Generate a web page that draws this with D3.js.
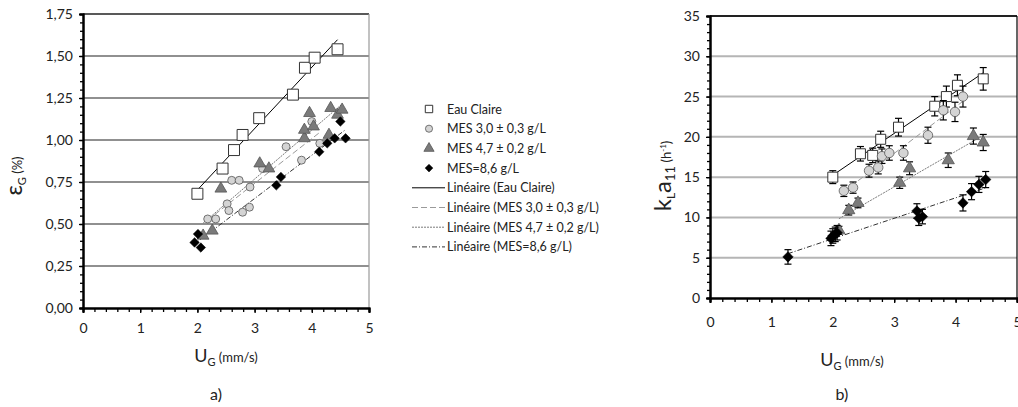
<!DOCTYPE html>
<html><head><meta charset="utf-8">
<script src="https://cdn.jsdelivr.net/npm/d3@7"></script>
<style>
html,body{margin:0;padding:0;background:#fff;}
svg text{font-family:Lato,"Noto Sans",sans-serif;fill:#222;}
</style></head>
<body>
<svg id="c" width="1018" height="407"></svg>
<script>
// ---------- DATA: chart a) gas hold-up ----------
const aEauX = [2.00, 2.44, 2.64, 2.79, 3.08, 3.67, 3.88, 4.05, 4.45];
const aEauY = [0.68, 0.83, 0.94, 1.03, 1.13, 1.27, 1.43, 1.49, 1.54];
const aMes3X = [2.18, 2.32, 2.52, 2.55, 2.60, 2.73, 2.79, 2.91, 2.92, 3.14, 3.55, 3.82, 4.00, 4.14];
const aMes3Y = [0.53, 0.53, 0.62, 0.58, 0.76, 0.76, 0.57, 0.60, 0.72, 0.83, 0.96, 0.88, 1.11, 0.98];
const aMes47X = [2.10, 2.26, 2.41, 3.09, 3.25, 3.87, 3.87, 3.96, 4.03, 4.30, 4.33, 4.45, 4.53];
const aMes47Y = [0.43, 0.46, 0.71, 0.86, 0.83, 1.01, 1.06, 1.16, 1.08, 1.03, 1.19, 1.15, 1.18];
const aMes86X = [1.95, 2.01, 2.06, 3.38, 3.46, 4.13, 4.27, 4.40, 4.50, 4.59];
const aMes86Y = [0.39, 0.44, 0.36, 0.73, 0.78, 0.93, 0.98, 1.01, 1.11, 1.01];
const aYTicks = [0, 0.25, 0.5, 0.75, 1.0, 1.25, 1.5, 1.75];
const aYTickLabels = ["0,00","0,25","0,50","0,75","1,00","1,25","1,50","1,75"];

// ---------- DATA: chart b) kLa ----------
const bEauX = [2.00, 2.45, 2.65, 2.78, 3.07, 3.66, 3.85, 4.03, 4.45];
const bEauY = [15.0, 17.9, 17.7, 19.7, 21.2, 23.8, 25.0, 26.4, 27.2];
const bEauE = [0.8, 0.9, 0.9, 1.0, 1.1, 1.2, 1.3, 1.3, 1.4];
const bMes3X = [2.18, 2.33, 2.59, 2.74, 2.80, 2.92, 3.15, 3.55, 3.80, 3.99, 4.12];
const bMes3Y = [13.3, 13.7, 15.8, 16.2, 17.6, 18.0, 18.0, 20.2, 23.3, 23.1, 25.0];
const bMes3E = [0.7, 0.7, 0.8, 0.8, 0.9, 0.9, 0.9, 1.0, 1.2, 1.2, 1.3];
const bMes47X = [2.10, 2.26, 2.41, 3.09, 3.25, 3.88, 4.29, 4.45];
const bMes47Y = [8.4, 10.9, 11.8, 14.3, 16.1, 17.1, 20.1, 19.3];
const bMes47E = [0.5, 0.6, 0.6, 0.7, 0.8, 0.9, 1.0, 1.0];
const bMes86X = [1.27, 1.97, 2.00, 2.04, 2.07, 3.37, 3.40, 3.46, 4.12, 4.26, 4.38, 4.49];
const bMes86Y = [5.1, 7.4, 7.7, 7.9, 8.1, 10.8, 9.9, 10.1, 11.8, 13.2, 14.1, 14.7];
const bMes86E = [0.9, 0.9, 0.9, 0.9, 0.9, 0.9, 0.9, 0.9, 1.0, 1.0, 1.0, 1.0];
const bYTicks = [0, 5, 10, 15, 20, 25, 30, 35];

const xTicks = [0, 1, 2, 3, 4, 5];
const legendLabels = ["Eau Claire", "MES 3,0 \u00b1 0,3 g/L", "MES 4,7 \u00b1 0,2 g/L", "MES=8,6 g/L",
  "Lin\u00e9aire (Eau Claire)", "Lin\u00e9aire (MES 3,0 \u00b1 0,3 g/L)", "Lin\u00e9aire (MES 4,7 \u00b1 0,2 g/L)", "Lin\u00e9aire (MES=8,6 g/L)"];

// ---------- STYLES ----------
const mk = [
  {type: d3.symbolSquare, rot: 0, fill: "#fff", stroke: "#333", sw: 1},
  {type: d3.symbolCircle, rot: 0, fill: "#d4d4d4", stroke: "#555", sw: 0.8},
  {type: d3.symbolTriangle, rot: 0, fill: "#7a7a7a", stroke: "#555", sw: 0.8},
  {type: d3.symbolSquare, rot: 45, fill: "#000", stroke: "#000", sw: 0.5}
];
const ln = [
  {stroke: "#000", dash: null, w: 1},
  {stroke: "#9a9a9a", dash: "6,3", w: 1},
  {stroke: "#7a7a7a", dash: "2,1", w: 1},
  {stroke: "#333", dash: "5,2,1,2", w: 1}
];

const svg = d3.select("#c");

function fit(xs, ys) {
  const n = xs.length, mx = d3.mean(xs), my = d3.mean(ys);
  let sxy = 0, sxx = 0;
  for (let i = 0; i < n; i++) { sxy += (xs[i]-mx)*(ys[i]-my); sxx += (xs[i]-mx)*(xs[i]-mx); }
  const b = sxy / sxx, a = my - b*mx;
  const x0 = d3.min(xs), x1 = d3.max(xs);
  return [[x0, a + b*x0], [x1, a + b*x1]];
}

function drawChart(o) {
  const g = svg.append("g");
  const x = d3.scaleLinear().domain([0, 5]).range([o.left, o.right]);
  const y = d3.scaleLinear().domain([0, o.ymax]).range([o.bottom, o.top]);

  g.selectAll(".grid").data(o.yTicks.slice(1)).join("line")
    .attr("x1", o.left).attr("x2", o.right)
    .attr("y1", d => y(d)).attr("y2", d => y(d))
    .attr("stroke", (d, i) => i === o.yTicks.length - 2 ? o.topColor : o.gridColor)
    .attr("stroke-width", o.gridW);
  g.append("line").attr("x1", o.right).attr("x2", o.right).attr("y1", o.top).attr("y2", o.bottom)
    .attr("stroke", o.rightColor).attr("stroke-width", 1.2);

  const yAx = d3.axisLeft(y).tickValues(o.yTicks).tickFormat((d, i) => o.yLabels[i]).tickSize(4).tickPadding(6);
  const yMinor = d3.axisLeft(y).tickValues(d3.range(0, o.ymax + 1e-9, o.yMinor)).tickFormat("").tickSize(3);
  const xAx = d3.axisBottom(x).tickValues(xTicks).tickFormat(d => d).tickSize(5).tickPadding(o.xPad);
  const xMinor = d3.axisBottom(x).tickValues(d3.range(0, 5.0001, 0.2)).tickFormat("").tickSize(4);
  [yMinor, yAx].forEach(a => {
    const ga = g.append("g").attr("transform", `translate(${o.left},0)`).call(a);
    ga.select(".domain").attr("stroke", "#000").attr("stroke-width", 2);
    ga.selectAll(".tick line").attr("stroke", "#000").attr("stroke-width", 1.3);
    ga.selectAll("text").attr("font-size", 14).attr("fill", "#222").attr("font-family", "Lato");
  });
  [xMinor, xAx].forEach(a => {
    const ga = g.append("g").attr("transform", `translate(0,${o.bottom})`).call(a);
    ga.select(".domain").attr("stroke", "#000").attr("stroke-width", 2);
    ga.selectAll(".tick line").attr("stroke", "#000").attr("stroke-width", 1.3);
    ga.selectAll("text").attr("font-size", 14).attr("fill", "#222").attr("font-family", "Lato");
  });

  o.series.forEach((s, i) => {
    const p = fit(s.x, s.y);
    g.append("line").attr("x1", x(p[0][0])).attr("y1", y(p[0][1])).attr("x2", x(p[1][0])).attr("y2", y(p[1][1]))
      .attr("stroke", ln[i].stroke).attr("stroke-width", ln[i].w).attr("stroke-dasharray", ln[i].dash);
  });

  o.series.forEach((s, i) => {
    const pts = s.x.map((v, j) => ({x: v, y: s.y[j], e: s.e ? s.e[j] : 0}));
    if (s.e) {
      const eb = g.append("g").attr("stroke", "#000").attr("stroke-width", 1.2);
      pts.forEach(p => {
        eb.append("line").attr("x1", x(p.x)).attr("x2", x(p.x)).attr("y1", y(p.y - p.e)).attr("y2", y(p.y + p.e));
        eb.append("line").attr("x1", x(p.x) - 3.5).attr("x2", x(p.x) + 3.5).attr("y1", y(p.y - p.e)).attr("y2", y(p.y - p.e));
        eb.append("line").attr("x1", x(p.x) - 3.5).attr("x2", x(p.x) + 3.5).attr("y1", y(p.y + p.e)).attr("y2", y(p.y + p.e));
      });
    }
    g.append("g").selectAll("path").data(pts).join("path")
      .attr("transform", p => `translate(${x(p.x)},${y(p.y)}) rotate(${mk[i].rot})`)
      .attr("d", d3.symbol().type(mk[i].type).size(o.sizes[i]))
      .attr("fill", mk[i].fill).attr("stroke", mk[i].stroke).attr("stroke-width", mk[i].sw);
  });

  const xl = g.append("text").attr("x", o.xLabelX).attr("y", o.xLabelY).attr("text-anchor", "middle");
  xl.append("tspan").text("U").attr("font-size", 18);
  xl.append("tspan").text("G").attr("font-size", 11).attr("dy", 4);
  xl.append("tspan").text(" (mm/s)").attr("font-size", 13).attr("dy", -4);
  g.append("text").attr("x", o.xLabelX - 10).attr("y", o.capY).attr("text-anchor", "middle")
    .attr("font-size", 16).text(o.caption);
  return g;
}

drawChart({
  left: 83, right: 369, top: 14, bottom: 308, ymax: 1.75, yMinor: 0.05,
  yTicks: aYTicks, yLabels: aYTickLabels, gridColor: "#6b6b6b", topColor: "#222", rightColor: "#999", gridW: 1.6,
  xPad: 10, sizes: [120, 50, 60, 45],
  series: [{x: aEauX, y: aEauY}, {x: aMes3X, y: aMes3Y}, {x: aMes47X, y: aMes47Y}, {x: aMes86X, y: aMes86Y}],
  xLabelX: 226, xLabelY: 362, capY: 400, caption: "a)"
});
const yla = svg.append("text").attr("transform", "translate(22,176) rotate(-90)").attr("text-anchor", "middle");
yla.append("tspan").text("\u03b5").attr("font-size", 23);
yla.append("tspan").text("G").attr("font-size", 11).attr("dy", 4);
yla.append("tspan").text(" (%)").attr("font-size", 13).attr("dy", -4);

drawChart({
  left: 710, right: 1017, top: 16, bottom: 298, ymax: 35, yMinor: 1,
  yTicks: bYTicks, yLabels: bYTicks.map(String), gridColor: "#b5b5b5", topColor: "#222", rightColor: "#000", gridW: 2,
  xPad: 14, sizes: [100, 70, 65, 55],
  series: [{x: bEauX, y: bEauY, e: bEauE}, {x: bMes3X, y: bMes3Y, e: bMes3E}, {x: bMes47X, y: bMes47Y, e: bMes47E}, {x: bMes86X, y: bMes86Y, e: bMes86E}],
  xLabelX: 852, xLabelY: 366, capY: 400, caption: "b)"
});
const ylb = svg.append("text").attr("transform", "translate(671,176) rotate(-90)").attr("text-anchor", "middle");
ylb.append("tspan").text("k").attr("font-size", 24);
ylb.append("tspan").text("L").attr("font-size", 12).attr("dy", 4);
ylb.append("tspan").text("a").attr("font-size", 24).attr("dy", -4);
ylb.append("tspan").text("11").attr("font-size", 13).attr("dy", 4);
ylb.append("tspan").text(" (h").attr("font-size", 13).attr("dy", -4);
ylb.append("tspan").text("-1").attr("font-size", 8).attr("dy", -5);
ylb.append("tspan").text(")").attr("font-size", 13).attr("dy", 5);

const lg = svg.append("g");
const legY0 = 109, legDy = 19.7;
legendLabels.forEach((t, i) => {
  const yy = legY0 + i * legDy;
  if (i < 4) {
    lg.append("path").attr("transform", `translate(429,${yy}) rotate(${mk[i].rot})`)
      .attr("d", d3.symbol().type(mk[i].type).size([55, 40, 45, 30][i]))
      .attr("fill", mk[i].fill).attr("stroke", mk[i].stroke).attr("stroke-width", mk[i].sw);
  } else {
    const s = ln[i - 4];
    lg.append("line").attr("x1", 412).attr("x2", 445).attr("y1", yy).attr("y2", yy)
      .attr("stroke", s.stroke).attr("stroke-width", s.w).attr("stroke-dasharray", s.dash);
  }
  lg.append("text").attr("x", 447).attr("y", yy + 4.5).attr("font-size", 12.5).text(t);
});
</script>
</body></html>
